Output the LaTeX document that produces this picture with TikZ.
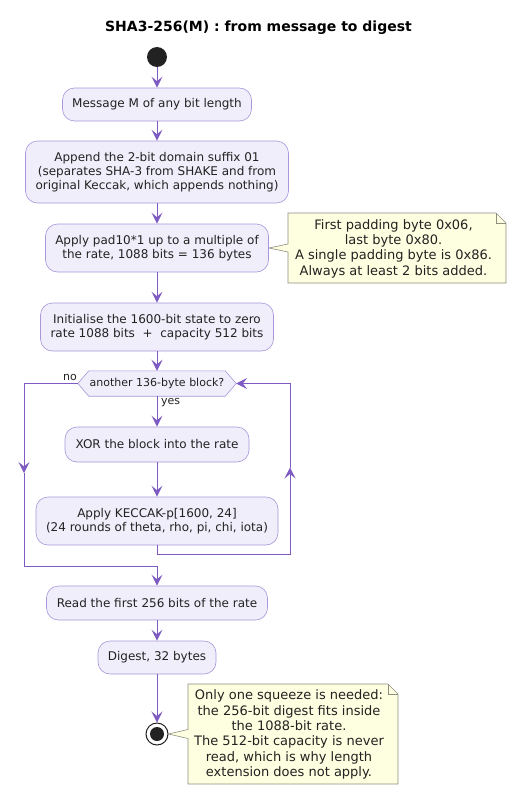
\documentclass[tikz,border=0pt]{standalone}
\usepackage{fontspec}
\setmainfont{DejaVu Sans}
\usetikzlibrary{arrows.meta,backgrounds}
\definecolor{boxfill}{HTML}{F1EEFB}
\definecolor{boxline}{HTML}{A895DA}
\definecolor{arr}{HTML}{7E5BC2}
\definecolor{notefill}{HTML}{FEFEE0}
\definecolor{noteline}{HTML}{8F8F80}
\definecolor{dark}{HTML}{222222}
\begin{document}
\begin{tikzpicture}[x=1pt,y=-1pt,
  act/.style={draw=boxline, fill=boxfill, rounded corners=12pt, line width=0.6pt,
    align=center, inner sep=0pt, font=\fontsize{12}{14}\selectfont, text=dark},
  flow/.style={draw=arr, line width=1pt, -{Stealth[length=11pt,width=11pt,inset=4.5pt]}},
  notebox/.style={fill=notefill, draw=noteline, line width=0.6pt},
  notetext/.style={align=center, inner sep=0pt, font=\fontsize{13}{15.3}\selectfont, text=dark},
  lbl/.style={font=\fontsize{11}{13}\selectfont, inner sep=0pt, text=dark}]
\useasboundingbox (0,0) rectangle (517,795);

\node[font=\bfseries\fontsize{14}{16}\selectfont] (title) at (258.5,28) {SHA3-256(M) : from message to digest};

\node[circle, fill=dark, minimum size=20pt, inner sep=0pt] (start) at (157,57) {};
\node[act, minimum width=189pt, minimum height=33pt] (msg) at (157,104.5) {Message M of any bit length};
\node[act, minimum width=263pt, minimum height=62pt] (suffix) at (157,172) {Append the 2-bit domain suffix 01\\(separates SHA-3 from SHAKE and from\\original Keccak, which appends nothing)};
\node[act, minimum width=223pt, minimum height=48pt] (pad) at (157,248) {Apply pad10*1 up to a multiple of\\the rate, 1088 bits = 136 bytes};
\node[act, minimum width=233pt, minimum height=48pt] (init) at (157,327) {Initialise the 1600-bit state to zero\\rate 1088 bits~~+~~capacity 512 bits};
\node[inner sep=0pt, minimum width=158pt, minimum height=25pt, font=\fontsize{11}{13}\selectfont, text=dark] (hex) at (157,383.5) {another 136-byte block?};
\begin{scope}[on background layer]
  \path[fill=boxfill, draw=boxline, line width=0.6pt]
    (hex.west) -- ([xshift=11pt]hex.north west) -- ([xshift=-11pt]hex.north east)
    -- (hex.east) -- ([xshift=-11pt]hex.south east) -- ([xshift=11pt]hex.south west) -- cycle;
\end{scope}
\node[act, minimum width=184pt, minimum height=35pt] (xor) at (157,444.5) {XOR the block into the rate};
\node[act, minimum width=242pt, minimum height=48pt] (keccak) at (157,521) {Apply KECCAK-p[1600, 24]\\(24 rounds of theta, rho, pi, chi, iota)};
\node[act, minimum width=221pt, minimum height=34pt] (read) at (157,603) {Read the first 256 bits of the rate};
\node[act, minimum width=118pt, minimum height=33pt] (digest) at (157,657.5) {Digest, 32 bytes};
\node[circle, draw=dark, fill=white, line width=1pt, minimum size=22pt, inner sep=0pt] (end) at (157,734) {};
\fill[dark] (end.center) circle (7pt);

% notes
\node[notetext] (n1) at (393.5,248.5) {First padding byte 0x06,\\last byte 0x80.\\A single padding byte is 0x86.\\Always at least 2 bits added.};
\node[notetext] (n2) at (289,734.5) {Only one squeeze is needed:\\the 256-bit digest fits inside\\the 1088-bit rate.\\The 512-bit capacity is never\\read, which is why length\\extension does not apply.};
\begin{scope}[on background layer]
  \path[notebox] (288,213) -- (496,213) -- (506,223) -- (506,283) -- (288,283)
    -- (288,252) -- (pad.east) -- (288,244) -- cycle;
  \draw[noteline, line width=0.6pt] (496,213) -- (496,223) -- (506,223);
  \path[notebox] (188,684) -- (388,684) -- (398,694) -- (398,784) -- (188,784)
    -- (188,738.5) -- (end.east) -- (188,729.5) -- cycle;
  \draw[noteline, line width=0.6pt] (388,684) -- (388,694) -- (398,694);
\end{scope}

% connectors
\draw[flow] (start) -- (msg);
\draw[flow] (msg) -- (suffix);
\draw[flow] (suffix) -- (pad);
\draw[flow] (pad) -- (init);
\draw[flow] (init) -- (hex);
\draw[flow] (hex.south) -- (xor.north) node[lbl, anchor=west, pos=0.2, xshift=3.5pt] (yeslbl) {yes};
\draw[flow] (xor) -- (keccak);

\coordinate (kb) at (157,554);
\coordinate (kr) at (290,554);
\coordinate (ku) at (290,467.5);
\coordinate (kt) at (290,383.5);
\draw[flow] (keccak.south) -- (kb) -- (kr) -- (ku);
\draw[flow] (ku) -- (kt) -- (hex.east);

\node[lbl, anchor=east] (nolbl) at (77,377) {no};
\coordinate (nl) at (24,383.5);
\coordinate (nm) at (24,473);
\coordinate (nb) at (24,566);
\coordinate (jn) at (157,566);
\draw[flow] (hex.west) -- (nl) -- (nm);
\draw[flow] (nm) -- (nb) -- (jn) -- (read.north);
\draw[flow] (read) -- (digest);
\draw[flow] (digest) -- (end);
\end{tikzpicture}
\end{document}
